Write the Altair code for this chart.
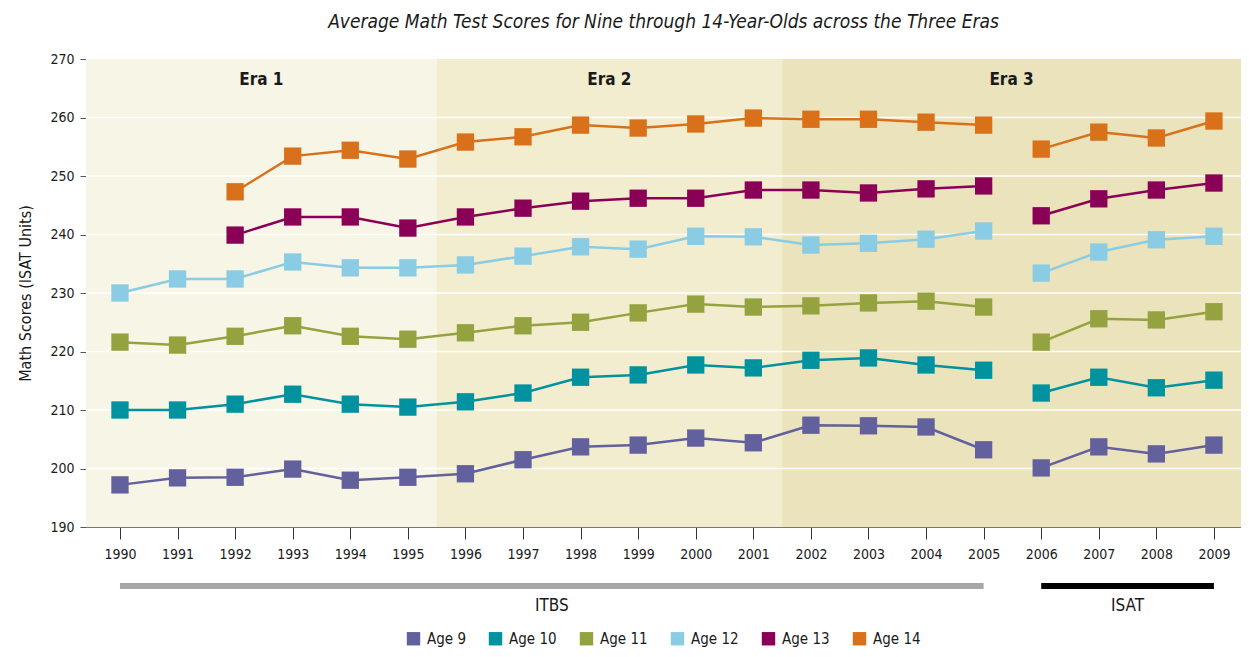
import altair as alt
import pandas as pd

years = list(range(1990, 2010))
age9 = [197.2, 198.4, 198.5, 199.9, 198.0, 198.5, 199.1, 201.5, 203.7, 204.0, 205.2, 204.4, 207.4, 207.3, 207.1, 203.2, 200.1, 203.7, 202.5, 204.0]
age10 = [210.0, 210.0, 211.0, 212.7, 211.0, 210.5, 211.4, 212.9, 215.6, 216.0, 217.7, 217.2, 218.5, 218.9, 217.7, 216.8, 212.9, 215.6, 213.8, 215.1]
age11 = [221.6, 221.1, 222.6, 224.4, 222.6, 222.1, 223.2, 224.4, 225.0, 226.6, 228.1, 227.6, 227.8, 228.3, 228.6, 227.6, 221.6, 225.6, 225.4, 226.8]
age12 = [230.0, 232.4, 232.4, 235.3, 234.3, 234.3, 234.8, 236.3, 237.9, 237.5, 239.7, 239.6, 238.2, 238.5, 239.2, 240.6, 233.4, 237.0, 239.1, 239.7]
age13 = [None, None, 239.9, 243.0, 243.0, 241.1, 243.0, 244.5, 245.7, 246.2, 246.2, 247.6, 247.6, 247.1, 247.8, 248.3, 243.2, 246.1, 247.6, 248.8]
age14 = [None, None, 247.3, 253.4, 254.4, 252.9, 255.8, 256.7, 258.7, 258.2, 258.9, 259.9, 259.7, 259.7, 259.2, 258.7, 254.6, 257.5, 256.5, 259.4]

ages = ["Age 9", "Age 10", "Age 11", "Age 12", "Age 13", "Age 14"]
colors = ["#63609e", "#00929e", "#94a33f", "#8acce4", "#8b0057", "#d9711a"]
series = [age9, age10, age11, age12, age13, age14]

eras = ["Era 1", "Era 2", "Era 3"]
era_start = [1989.41, 1995.5, 2001.5]
era_end = [1995.5, 2001.5, 2009.47]
era_fill = ["#f7f5e6", "#f2edcf", "#ebe3bb"]

tests = ["ITBS", "ISAT"]
test_start = [1990, 2006]
test_end = [2005, 2009]
test_color = ["#a7a7a9", "#000000"]

FONT = "'Liberation Sans Narrow', 'DejaVu Sans Condensed', 'Arial Narrow', sans-serif"

rows = []
for a, vals in zip(ages, series):
    for y, v in zip(years, vals):
        if v is not None:
            rows.append({"year": y, "score": v, "age": a,
                         "test": "ITBS" if y <= 2005 else "ISAT"})
df = pd.DataFrame(rows)

era_df = pd.DataFrame({"era": eras, "x0": era_start, "x1": era_end,
                       "mid": [(s + e) / 2 for s, e in zip(era_start, era_end)],
                       "fill": era_fill})
test_df = pd.DataFrame({"test": tests, "x0": test_start, "x1": test_end,
                        "mid": [(s + e) / 2 for s, e in zip(test_start, test_end)],
                        "c": test_color})

W, H = 1155, 468
xscale = alt.Scale(domain=[1989.41, 2009.47], nice=False, zero=False)
yscale = alt.Scale(domain=[190, 270], nice=False, zero=False)

bg = alt.Chart(era_df).mark_rect().encode(
    x=alt.X("x0:Q", scale=xscale),
    x2="x1:Q",
    y=alt.value(0),
    y2=alt.value(H),
    color=alt.Color("fill:N", scale=None),
)

era_text = alt.Chart(era_df).mark_text(fontSize=17, fontWeight="bold", font=FONT, color="#1a1a1a").encode(
    x=alt.X("mid:Q", scale=xscale),
    y=alt.value(21),
    text="era:N",
)

grid = alt.Chart(pd.DataFrame({"g": [200, 210, 220, 230, 240, 250, 260]})).mark_rule(
    color="white", strokeWidth=1.5).encode(
    y=alt.Y("g:Q", scale=yscale),
)

base_x = alt.X("year:Q", scale=xscale,
               axis=alt.Axis(values=years, format="d", title=None, grid=False,
                             tickSize=12, tickColor="#333", domainColor="#777",
                             labelFontSize=14, labelFont=FONT, labelColor="#1a1a1a",
                             labelPadding=8))
base_y = alt.Y("score:Q", scale=yscale,
               axis=alt.Axis(values=[190, 200, 210, 220, 230, 240, 250, 260, 270],
                             title="Math Scores (ISAT Units)", grid=False,
                             tickSize=6, tickColor="#555", domainColor="#777",
                             labelFontSize=14, labelFont=FONT, labelColor="#1a1a1a",
                             titleFontSize=16, titleFont=FONT, titleFontWeight="normal",
                             titleColor="#1a1a1a", titlePadding=16, labelPadding=6))

color = alt.Color("age:N", scale=alt.Scale(domain=ages, range=colors),
                  sort=ages,
                  legend=alt.Legend(title=None, orient="none", direction="horizontal",
                                    legendX=320, legendY=H + 104,
                                    symbolType="square", symbolSize=180,
                                    symbolStrokeWidth=0, symbolOpacity=1,
                                    labelFontSize=15, labelFont=FONT, labelColor="#1a1a1a",
                                    columnPadding=22, labelOffset=6))

lines = alt.Chart(df).mark_line(strokeWidth=2.5).encode(
    x=base_x, y=base_y, color=color, detail="test:N", order="year:Q")

points = alt.Chart(df).mark_point(shape="square", filled=True, size=300, opacity=1).encode(
    x=alt.X("year:Q", scale=xscale), y=alt.Y("score:Q", scale=yscale),
    color=alt.Color("age:N", scale=alt.Scale(domain=ages, range=colors), legend=None))

test_bars = alt.Chart(test_df).mark_rule(strokeWidth=6, clip=False).encode(
    x=alt.X("x0:Q", scale=xscale),
    x2="x1:Q",
    y=alt.value(H + 59),
    color=alt.Color("c:N", scale=None),
)

test_text = alt.Chart(test_df).mark_text(fontSize=17, font=FONT, color="#1a1a1a", clip=False).encode(
    x=alt.X("mid:Q", scale=xscale),
    y=alt.value(H + 79),
    text="test:N",
)

chart = alt.layer(bg, grid, era_text, lines, points, test_bars, test_text).properties(
    width=W, height=H,
    autosize=alt.AutoSizeParams(type="none"),
    padding={"left": 78, "top": 51, "right": 0, "bottom": 122},
    title=alt.TitleParams("Average Math Test Scores for Nine through 14-Year-Olds across the Three Eras",
                          fontSize=19, font=FONT, fontStyle="italic", fontWeight="normal",
                          color="#1a1a1a", offset=20, anchor="middle"),
).configure_view(stroke=None)

chart.save("out.html", embed_options={"renderer": "svg", "actions": False})
